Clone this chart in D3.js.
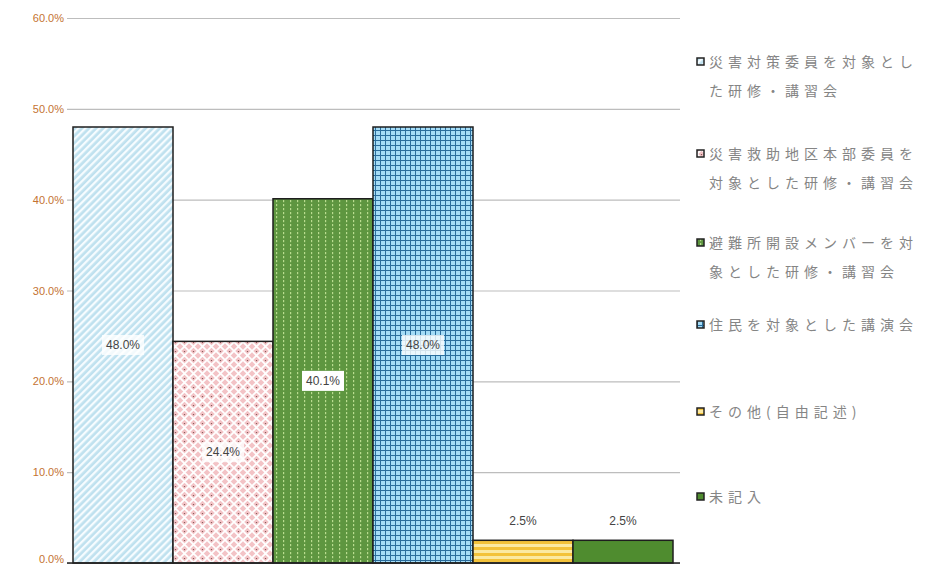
<!DOCTYPE html>
<html>
<head>
<meta charset="utf-8">
<script src="https://cdn.jsdelivr.net/npm/d3@7"></script>
<style>
  body { margin: 0; background: #fff; }
  svg { display: block; }
  .tick_label { font-family: "Liberation Sans", Arial, sans-serif; font-size: 11px; fill: #c47232; }
  .legend_text { font-family: "Noto Sans CJK JP", sans-serif; font-size: 14px; fill: #858585; letter-spacing: 5px; }
  .bar_label { font-family: "Liberation Sans", Arial, sans-serif; font-size: 12px; fill: #444; }
</style>
</head>
<body>
<div class="chart"></div>
<script>
// data
const categories = [
    "災害対策委員を対象とした研修・講習会",
    "災害救助地区本部委員を対象とした研修・講習会",
    "避難所開設メンバーを対象とした研修・講習会",
    "住民を対象とした講演会",
    "その他(自由記述)",
    "未記入"
];
const values = [48.0, 24.4, 40.1, 48.0, 2.5, 2.5];
const valueLabels = ["48.0%", "24.4%", "40.1%", "48.0%", "2.5%", "2.5%"];
const legendLines = [
    ["災害対策委員を対象とし", "た研修・講習会"],
    ["災害救助地区本部委員を", "対象とした研修・講習会"],
    ["避難所開設メンバーを対", "象とした研修・講習会"],
    ["住民を対象とした講演会"],
    ["その他(自由記述)"],
    ["未記入"]
];
const yTicks = [0, 10, 20, 30, 40, 50, 60];

const width = 930, height = 566;

const svg = d3.select('.chart').append('svg')
    .attr('width', width)
    .attr('height', height);

// patterns
const defs = svg.append('defs');

const p1 = defs.append('pattern').attr('id', 'pat0')
    .attr('width', 5).attr('height', 5)
    .attr('patternUnits', 'userSpaceOnUse')
    .attr('patternTransform', 'rotate(45)');
p1.append('rect').attr('width', 5).attr('height', 5).attr('fill', '#bfe1ef');
p1.append('rect').attr('width', 2.3).attr('height', 5).attr('fill', '#f6fcff');

const p2 = defs.append('pattern').attr('id', 'pat1')
    .attr('width', 9).attr('height', 9)
    .attr('patternUnits', 'userSpaceOnUse');
p2.append('rect').attr('width', 9).attr('height', 9).attr('fill', '#f3c3c6');
p2.append('path').attr('d', 'M0,0L9,9M9,0L0,9')
    .attr('stroke', '#fff').attr('stroke-width', 1.8);
p2.append('circle').attr('cx', 4.5).attr('cy', 0.5).attr('r', 0.7).attr('fill', '#8a5a5a');

const p3 = defs.append('pattern').attr('id', 'pat2')
    .attr('width', 7).attr('height', 4)
    .attr('patternUnits', 'userSpaceOnUse');
p3.append('rect').attr('width', 7).attr('height', 4).attr('fill', '#5e9640');
p3.append('rect').attr('x', 3).attr('width', 1.2).attr('height', 2.2).attr('fill', '#b9dc8f');

const p4 = defs.append('pattern').attr('id', 'pat3')
    .attr('width', 5).attr('height', 5)
    .attr('patternUnits', 'userSpaceOnUse');
p4.append('rect').attr('width', 5).attr('height', 5).attr('fill', '#a5dcf6');
p4.append('path').attr('d', 'M0,0.5H5M0.5,0V5')
    .attr('stroke', '#2a6d9c').attr('stroke-width', 1);

const p5 = defs.append('pattern').attr('id', 'pat4')
    .attr('width', 6).attr('height', 6)
    .attr('patternUnits', 'userSpaceOnUse');
p5.append('rect').attr('width', 6).attr('height', 6).attr('fill', '#fbe9a2');
p5.append('rect').attr('y', 1).attr('width', 6).attr('height', 3).attr('fill', '#f3c23a');

const p6 = defs.append('pattern').attr('id', 'pat5')
    .attr('width', 4).attr('height', 4)
    .attr('patternUnits', 'userSpaceOnUse');
p6.append('rect').attr('width', 4).attr('height', 4).attr('fill', '#4f8c2f');

// scales
const xScale = d3.scaleBand()
    .domain(categories)
    .range([73, 673])
    .padding(0);
const yScale = d3.scaleLinear()
    .domain([0, 60])
    .range([563, 18]);

// grid
const yAxis = d3.axisLeft(yScale)
    .tickValues(yTicks)
    .tickSize(-613)
    .tickFormat(d => d.toFixed(1) + '%');
const yAxis_group = svg.append('g')
    .attr('transform', 'translate(67,0)')
    .call(yAxis);
yAxis_group.select('.domain').remove();
yAxis_group.selectAll('.tick line')
    .attr('stroke', '#bdbdbd')
    .attr('stroke-width', 1.2);
yAxis_group.selectAll('.tick text')
    .attr('class', 'tick_label')
    .attr('x', -3)
    .attr('dy', d => d === 0 ? '-0.05em' : '0.32em');

// bars
svg.append('g').selectAll('rect')
    .data(values)
    .enter()
    .append('rect')
    .attr('x', (d, i) => xScale(categories[i]))
    .attr('y', d => yScale(d))
    .attr('width', xScale.bandwidth())
    .attr('height', d => yScale(0) - yScale(d))
    .attr('fill', (d, i) => `url(#pat${i})`)
    .attr('stroke', '#1e1e1e')
    .attr('stroke-width', 1.5);

// bottom axis line
svg.append('line')
    .attr('x1', 67).attr('x2', 680)
    .attr('y1', yScale(0)).attr('y2', yScale(0))
    .attr('stroke', '#222').attr('stroke-width', 1.5);

// value labels
const labels = svg.append('g').selectAll('g')
    .data(values)
    .enter()
    .append('g')
    .attr('transform', (d, i) => {
        const cx = xScale(categories[i]) + xScale.bandwidth() / 2;
        const cy = d > 10 ? (yScale(d) + yScale(0)) / 2 : yScale(d) - 19;
        return `translate(${cx},${cy})`;
    });
labels.filter(d => d > 10).append('rect')
    .attr('x', -21).attr('y', -10)
    .attr('width', 42).attr('height', 20)
    .attr('fill', (d, i) => i === 2 ? '#fff' : 'rgba(255,255,255,0.8)');
labels.append('text')
    .attr('class', 'bar_label')
    .attr('text-anchor', 'middle')
    .attr('dy', '0.35em')
    .text((d, i) => valueLabels[i]);

// legend
const legendY = [62, 154, 243, 325, 412, 497];
const legend = svg.append('g').selectAll('g')
    .data(categories)
    .enter()
    .append('g')
    .attr('transform', (d, i) => `translate(697,${legendY[i]})`);
legend.append('rect')
    .attr('x', 0).attr('y', -4)
    .attr('width', 7).attr('height', 7)
    .attr('fill', (d, i) => `url(#pat${i})`)
    .attr('stroke', '#222')
    .attr('stroke-width', 1.5);
legend.each(function(d, i) {
    const t = d3.select(this).append('text')
        .attr('class', 'legend_text')
        .attr('x', 12);
    legendLines[i].forEach((line, j) => {
        t.append('tspan')
            .attr('x', 12)
            .attr('dy', j === 0 ? '0.35em' : 29)
            .text(line);
    });
});
</script>
</body>
</html>
